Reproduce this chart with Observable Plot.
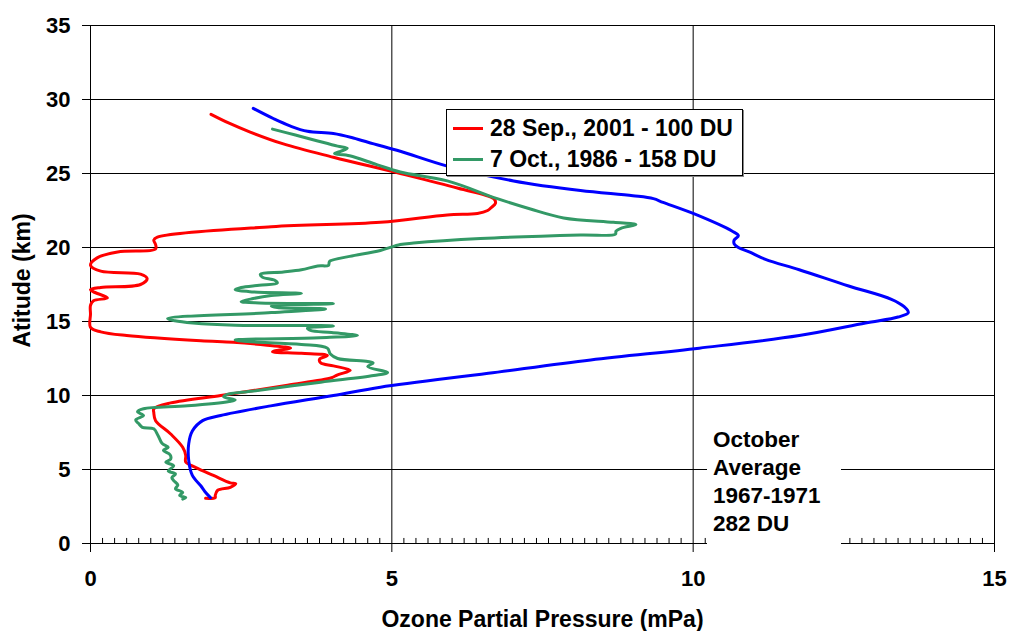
<!DOCTYPE html>
<html>
<head>
<meta charset="utf-8">
<script src="https://cdn.jsdelivr.net/npm/d3@7"></script>
<script src="https://cdn.jsdelivr.net/npm/@observablehq/plot@0.6"></script>
<style>
  html, body { margin: 0; padding: 0; background: #fff; }
  #wrap { position: relative; width: 1011px; height: 631px; font-family: "Liberation Sans", Arial, sans-serif; font-weight: bold; }
  #legend { position: absolute; left: 446px; top: 109px; width: 295px; height: 65px; border: 1px solid #000; background: #fff; box-shadow: 1px 1px 0 #888; }
  .row { position: absolute; left: 0; height: 28px; font-size: 23px; line-height: 28px; white-space: nowrap; color: #000; }
  .sw { position: absolute; left: 6px; top: 13px; width: 30px; height: 3px; }
  .lbl { position: absolute; left: 43px; top: 0; }
  #note { position: absolute; left: 707px; top: 424px; width: 134px; height: 124px; background: #fff; font-size: 22.5px; line-height: 28px; color: #000; }
  #note div { padding-left: 6px; }
</style>
</head>
<body>
<div id="wrap"></div>
<script>
// ---- Data (altitude km, ozone partial pressure mPa) ----
const redAlt = [3.05, 3.1, 3.25, 3.6, 3.8, 4.05, 4.1, 4.6, 5.15, 5.5, 5.95, 6.5, 7.4, 8.3, 8.85, 9.1, 9.5, 10.0, 10.3, 10.7, 11.2, 11.4, 11.7, 12.0, 12.2, 12.45, 12.7, 12.85, 12.95, 13.05, 13.2, 13.4, 13.6, 13.7, 14.05, 14.3, 14.6, 15.5, 16.1, 16.4, 16.6, 17.0, 17.15, 17.3, 17.5, 17.9, 18.2, 18.4, 18.8, 19.3, 19.7, 19.9, 20.2, 20.5, 20.7, 21.4, 21.7, 22.2, 22.3, 22.5, 22.7, 23.0, 23.3, 24.0, 25.0, 26.1, 27.0, 27.8, 28.4, 29.0];
const redPP  = [1.91, 2.07, 2.07, 2.11, 2.32, 2.41, 2.32, 2.04, 1.74, 1.58, 1.58, 1.53, 1.33, 1.08, 1.05, 1.05, 1.33, 2.16, 2.65, 3.27, 4.0, 4.1, 4.31, 4.03, 3.82, 3.8, 3.93, 3.5, 3.02, 3.1, 3.32, 2.93, 2.37, 1.83, 0.6, 0.17, 0.0, 0.0, 0.0, 0.05, 0.28, 0.05, 0.0, 0.17, 0.83, 0.94, 0.83, 0.17, 0.0, 0.11, 0.45, 1.08, 1.08, 1.05, 1.11, 3.0, 4.81, 5.92, 6.42, 6.59, 6.65, 6.72, 6.69, 6.1, 5.14, 4.03, 3.2, 2.65, 2.3, 2.0];

const greenAlt = [3.0, 3.1, 3.25, 3.45, 3.7, 3.95, 4.25, 4.45, 4.7, 4.9, 5.25, 5.5, 5.7, 6.0, 6.3, 6.5, 6.75, 7.3, 7.75, 7.85, 8.1, 8.35, 8.65, 8.9, 9.1, 9.3, 9.6, 9.7, 9.9, 10.05, 10.3, 10.9, 11.35, 11.55, 11.95, 12.2, 12.3, 12.5, 12.8, 13.2, 13.45, 13.65, 13.75, 13.9, 14.05, 14.25, 14.4, 14.55, 14.7, 14.75, 14.9, 15.05, 15.2, 15.6, 15.85, 15.95, 16.05, 16.2, 16.25, 16.35, 16.55, 16.75, 16.9, 17.0, 17.15, 17.3, 17.45, 17.6, 17.8, 18.0, 18.2, 18.35, 18.5, 18.75, 18.8, 19.0, 19.1, 19.4, 19.8, 20.2, 20.3, 20.6, 20.85, 20.9, 21.1, 21.3, 21.55, 21.7, 22.0, 22.6, 23.3, 24.5, 25.1, 25.6, 26.2, 26.35, 26.5, 26.7, 26.85, 27.2, 27.6, 28.0];
const greenPP  = [1.53, 1.58, 1.48, 1.53, 1.41, 1.45, 1.38, 1.35, 1.41, 1.29, 1.38, 1.25, 1.33, 1.32, 1.21, 1.29, 1.19, 1.12, 1.05, 0.86, 0.8, 0.75, 0.88, 0.78, 0.88, 1.61, 2.3, 2.4, 2.21, 2.25, 2.7, 3.82, 4.7, 4.93, 4.6, 4.69, 4.6, 4.1, 3.98, 3.93, 3.5, 2.6, 2.4, 3.8, 4.43, 4.0, 3.65, 3.6, 4.03, 2.4, 1.7, 1.4, 1.28, 3.0, 3.9, 3.1, 3.0, 4.03, 2.8, 2.5, 2.7, 3.0, 3.5, 2.7, 2.4, 2.5, 2.8, 3.1, 3.05, 2.85, 2.82, 3.2, 3.5, 3.77, 3.95, 3.96, 3.98, 4.3, 4.81, 5.14, 5.36, 6.47, 8.13, 8.71, 8.72, 8.8, 9.05, 8.68, 7.85, 7.3, 6.75, 5.92, 5.14, 4.75, 4.3, 4.05, 4.15, 4.26, 4.1, 3.77, 3.4, 3.02];

const blueAlt = [3.1, 3.5, 3.9, 4.6, 5.6, 6.75, 7.6, 8.3, 8.65, 9.3, 10.0, 10.56, 11.5, 12.4, 13.2, 14.05, 14.9, 15.3, 15.6, 16.0, 16.5, 17.4, 18.5, 19.2, 19.7, 20.0, 20.25, 20.5, 20.8, 21.1, 22.3, 23.05, 23.3, 23.5, 23.85, 24.5, 25.5, 26.5, 27.0, 27.4, 27.7, 27.85, 28.2, 28.7, 29.4];
const bluePP  = [1.99, 1.9, 1.83, 1.69, 1.63, 1.63, 1.69, 1.86, 2.16, 2.99, 4.03, 4.81, 6.6, 8.3, 10.1, 11.76, 12.86, 13.4, 13.57, 13.5, 13.29, 12.58, 11.76, 11.2, 10.93, 10.75, 10.68, 10.68, 10.75, 10.65, 10.0, 9.5, 9.34, 9.0, 8.13, 7.02, 5.92, 5.14, 4.70, 4.36, 4.03, 3.6, 3.32, 3.04, 2.70];

const seriesNames = ["28 Sep., 2001 - 100 DU", "7 Oct., 1986 - 158 DU", "October Average 1967-1971 282 DU"];
const seriesColors = ["#ff0000", "#339966", "#0000ff"];

const xTicks = [0, 5, 10, 15];
const yTicks = [0, 5, 10, 15, 20, 25, 30, 35];
const xMinor = d3.range(0, 15.0001, 0.2).map(v => +v.toFixed(1)).filter(v => Math.abs(v % 5) > 1e-6 && Math.abs(v % 5 - 5) > 1e-6);
const xTitle = "Ozone Partial Pressure (mPa)";
const yTitle = "Atitude (km)";
const noteLines = ["October", "Average", "1967-1971", "282 DU"];

const toRows = (alt, pp) => alt.map((a, i) => ({alt: a, pp: pp[i]}));
const red = toRows(redAlt, redPP);
const green = toRows(greenAlt, greenPP);
const blue = toRows(blueAlt, bluePP);

const font = "Liberation Sans, Arial, sans-serif";

const chart = Plot.plot({
  width: 1011,
  height: 631,
  marginLeft: 90,
  marginRight: 17,
  marginTop: 25,
  marginBottom: 88,
  style: {fontFamily: font, fontSize: "22px", fontWeight: "bold", color: "#000", background: "#fff"},
  x: {domain: [0, 15]},
  y: {domain: [0, 35]},
  marks: [
    Plot.ruleY(yTicks, {stroke: "#000", strokeWidth: 1}),
    Plot.ruleX(xTicks, {stroke: "#000", strokeWidth: 1}),
    Plot.ruleX(xMinor, {x: d => d, y1: 0, y2: 0.34, stroke: "#000", strokeWidth: 1}),
    Plot.axisX(xTicks, {tickSize: 9, tickPadding: 18, fontSize: 22, fontWeight: "bold", label: null, tickFormat: d => String(d)}),
    Plot.axisY(yTicks, {tickSize: 8, tickPadding: 12, fontSize: 22, fontWeight: "bold", label: null, tickFormat: d => String(d)}),
    Plot.line(red, {x: "pp", y: "alt", stroke: seriesColors[0], strokeWidth: 3, curve: "catmull-rom"}),
    Plot.line(green, {x: "pp", y: "alt", stroke: seriesColors[1], strokeWidth: 3, curve: "catmull-rom"}),
    Plot.line(blue, {x: "pp", y: "alt", stroke: seriesColors[2], strokeWidth: 3, curve: "catmull-rom"}),
    Plot.text([xTitle], {frameAnchor: "bottom", dy: 76, fontSize: 23, fontWeight: "bold", lineAnchor: "middle", textAnchor: "middle"}),
    Plot.text([yTitle], {frameAnchor: "left", dx: -68, dy: -4, rotate: -90, fontSize: 23, fontWeight: "bold", lineAnchor: "middle", textAnchor: "middle"})
  ]
});

const wrap = document.getElementById("wrap");
wrap.appendChild(chart);

// Legend
const legend = document.createElement("div");
legend.id = "legend";
[0, 1].forEach((i) => {
  const row = document.createElement("div");
  row.className = "row";
  row.style.top = (i === 0 ? 4 : 35) + "px";
  row.style.width = "295px";
  const sw = document.createElement("span");
  sw.className = "sw";
  sw.style.background = seriesColors[i];
  const lb = document.createElement("span");
  lb.className = "lbl";
  lb.textContent = seriesNames[i];
  row.appendChild(sw);
  row.appendChild(lb);
  legend.appendChild(row);
});
wrap.appendChild(legend);

// Annotation for the blue curve
const note = document.createElement("div");
note.id = "note";
note.style.paddingTop = "2px";
note.style.boxSizing = "border-box";
noteLines.forEach(t => {
  const d = document.createElement("div");
  d.textContent = t;
  note.appendChild(d);
});
wrap.appendChild(note);
</script>
</body>
</html>
